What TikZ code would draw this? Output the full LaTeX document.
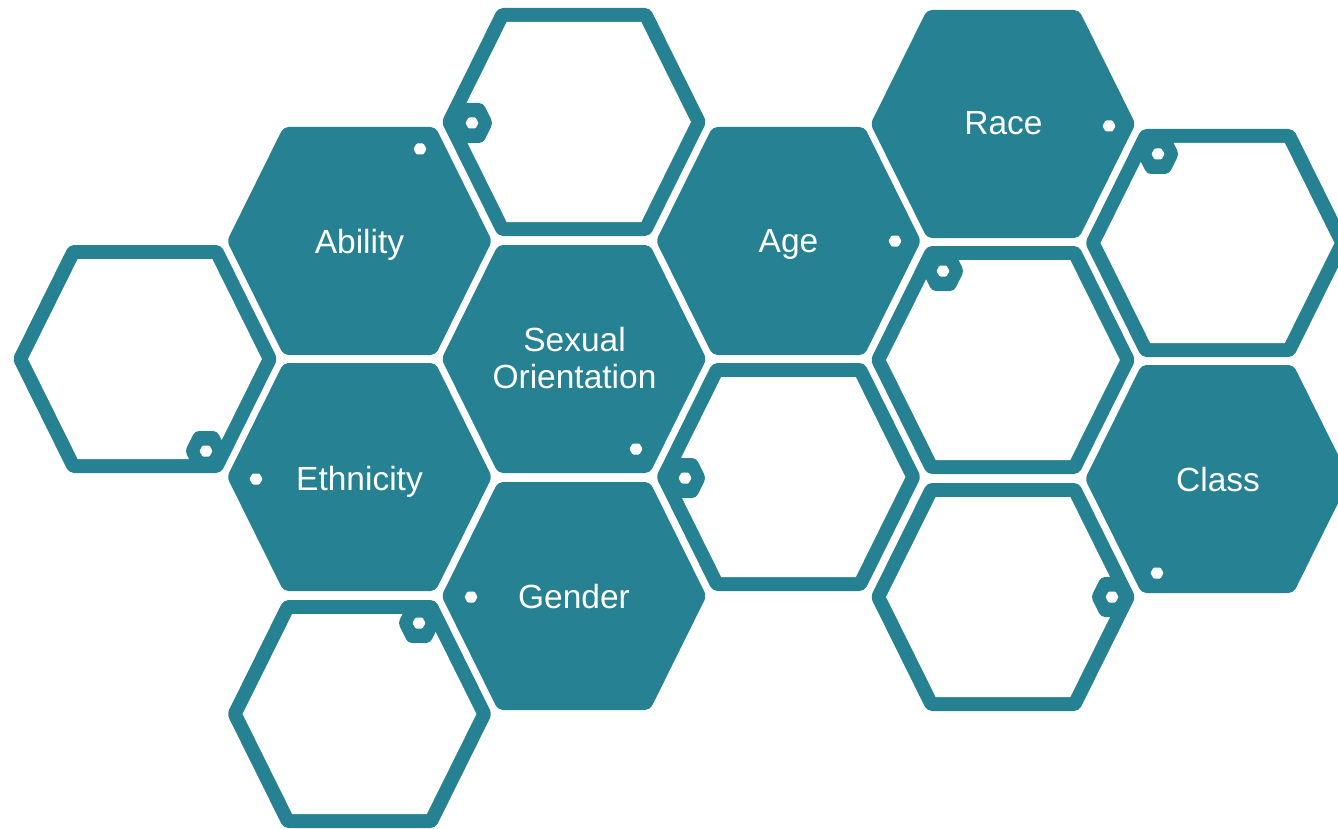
\documentclass[tikz,border=0pt]{standalone}
\usepackage{fontspec}
\setmainfont{Liberation Sans}
\definecolor{hexteal}{RGB}{38,129,146}
\begin{document}
\begin{tikzpicture}[x=1pt,y=-1pt,
  lbl/.style={text=white,font=\fontsize{33.5}{36.5}\selectfont,align=center,inner sep=0pt},
  hexfill/.pic={\fill[hexteal,rounded corners=5pt] (-132.5,0) -- (-76,-114) -- (76,-114) -- (132.5,0) -- (76,114) -- (-76,114) -- cycle;},
  hexring/.pic={\fill[hexteal,rounded corners=5pt] (-132.5,0) -- (-76,-114) -- (76,-114) -- (132.5,0) -- (76,114) -- (-76,114) -- cycle;
                \fill[white] (-116.9,0) -- (-67.3,-100) -- (67.3,-100) -- (116.9,0) -- (67.3,100) -- (-67.3,100) -- cycle;},
  hexknob/.pic={\fill[hexteal,rounded corners=4pt] (-21,0) -- (-11,-20) -- (11,-20) -- (21,0) -- (11,20) -- (-11,20) -- cycle;
                \fill[white,rounded corners=1pt] (-6.5,0) -- (-3.5,-5.5) -- (3.5,-5.5) -- (6.5,0) -- (3.5,5.5) -- (-3.5,5.5) -- cycle;},
  hexdot/.pic={\fill[white,rounded corners=1pt] (-6.5,0) -- (-3.5,-5.5) -- (3.5,-5.5) -- (6.5,0) -- (3.5,5.5) -- (-3.5,5.5) -- cycle;}
]
\useasboundingbox (0,0) rectangle (1338,829);
\clip (0,0) rectangle (1338,829);
% outline hexagons
\pic at (574,122) {hexring};
\pic at (145,359) {hexring};
\pic at (359.5,714) {hexring};
\pic at (788.5,477) {hexring};
\pic at (1003,360) {hexring};
\pic at (1003,597) {hexring};
\pic at (1217.5,243) {hexring};
% knobs on outline hexagons
\pic at (472,123) {hexknob};
\pic at (206,451) {hexknob};
\pic at (419,623) {hexknob};
\pic at (685,478) {hexknob};
\pic at (943,271) {hexknob};
\pic at (1112,597) {hexknob};
\pic at (1158,154) {hexknob};
% filled hexagons
\pic at (359.5,241) {hexfill};
\pic at (574,359) {hexfill};
\pic at (359.5,477) {hexfill};
\pic at (574,596) {hexfill};
\pic at (788.5,241) {hexfill};
\pic at (1003,124) {hexfill};
\pic at (1217.5,479) {hexfill};
% dots on filled hexagons
\pic at (420,149) {hexdot};
\pic at (636,449) {hexdot};
\pic at (256,479) {hexdot};
\pic at (471,597) {hexdot};
\pic at (895,241) {hexdot};
\pic at (1109,126) {hexdot};
\pic at (1157,573) {hexdot};
% labels
\node[lbl,anchor=base] (ability) at (359.5,253) {Ability};
\node[lbl,anchor=base] (age) at (788.5,252) {Age};
\node[lbl,anchor=base] (race) at (1003.5,135) {Race};
\node[lbl,anchor=base] (ethnicity) at (359.5,490) {Ethnicity};
\node[lbl,anchor=base] (gender) at (574,608) {Gender};
\node[lbl,anchor=base] (class) at (1218,491) {Class};
\node[lbl] (sexor) at (574.5,358) {Sexual\\Orientation};
\end{tikzpicture}
\end{document}
